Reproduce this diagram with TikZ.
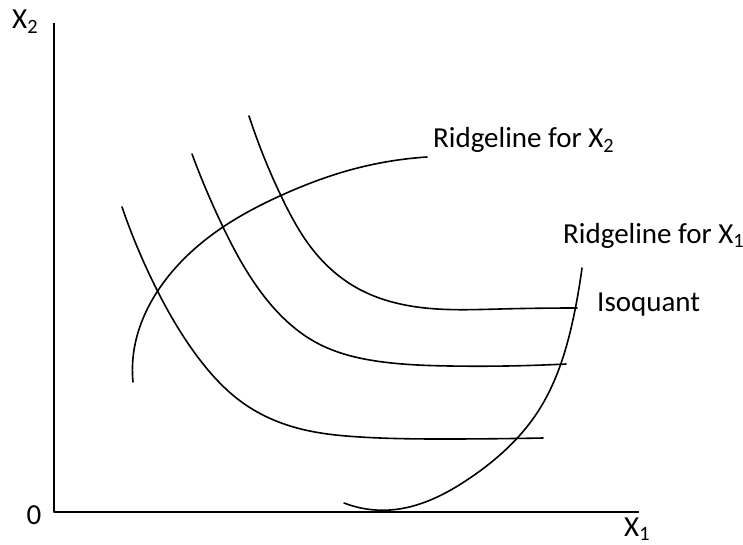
\documentclass[tikz,border=0pt]{standalone}
\usepackage{fontspec}
\setmainfont{Carlito}
\usetikzlibrary{hobby}
\begin{document}
\begin{tikzpicture}[x=1pt,y=-1pt,
  curve/.style={line width=1.6pt,line cap=round,line join=round},
  lbl/.style={font=\fontsize{29}{32}\selectfont,inner sep=0pt}]
\useasboundingbox (0,0) rectangle (743,545);
% axes
\coordinate (top) at (54,23);
\coordinate (orig) at (54,512);
\coordinate (right) at (639,512);
\draw[curve,line cap=butt] (top) -- (orig) -- (right);
\node[lbl,anchor=base west] (x2) at (12,29) {X\textsubscript{2}};
\node[lbl,anchor=base] (zero) at (34,524) {0};
\node[lbl,anchor=base west] (x1) at (624,536) {X\textsubscript{1}};
% ridgeline for X2
\draw[curve,use Hobby shortcut] (133,382) .. (134,350) .. (157,292) .. (223,227) .. (282,195) .. (350,170) .. (427,157);
% isoquants
\draw[curve,use Hobby shortcut] (122,207) .. (157,290) .. (200,360) .. (243,403) .. (297,428) .. (360,437) .. (450,439) .. (543,438);
\draw[curve,use Hobby shortcut] (192,154) .. (223,227) .. (267,300) .. (317,343) .. (383,362) .. (450,366) .. (566,364);
\draw[curve,use Hobby shortcut] (249,116) .. (283,200) .. (313,250) .. (357,288) .. (417,307) .. (500,309) .. (577,308);
% ridgeline for X1
\draw[curve,use Hobby shortcut] (344,503) .. (390,510) .. (470,478) .. (537,413) .. (575,310) .. (582,268);
% labels
\node[lbl,anchor=base west] (r2) at (433,148) {Ridgeline for X\textsubscript{2}};
\node[lbl,anchor=base west] (r1) at (563,243) {Ridgeline for X\textsubscript{1}};
\node[lbl,anchor=base west] (iso) at (597,311) {Isoquant};
\end{tikzpicture}
\end{document}
